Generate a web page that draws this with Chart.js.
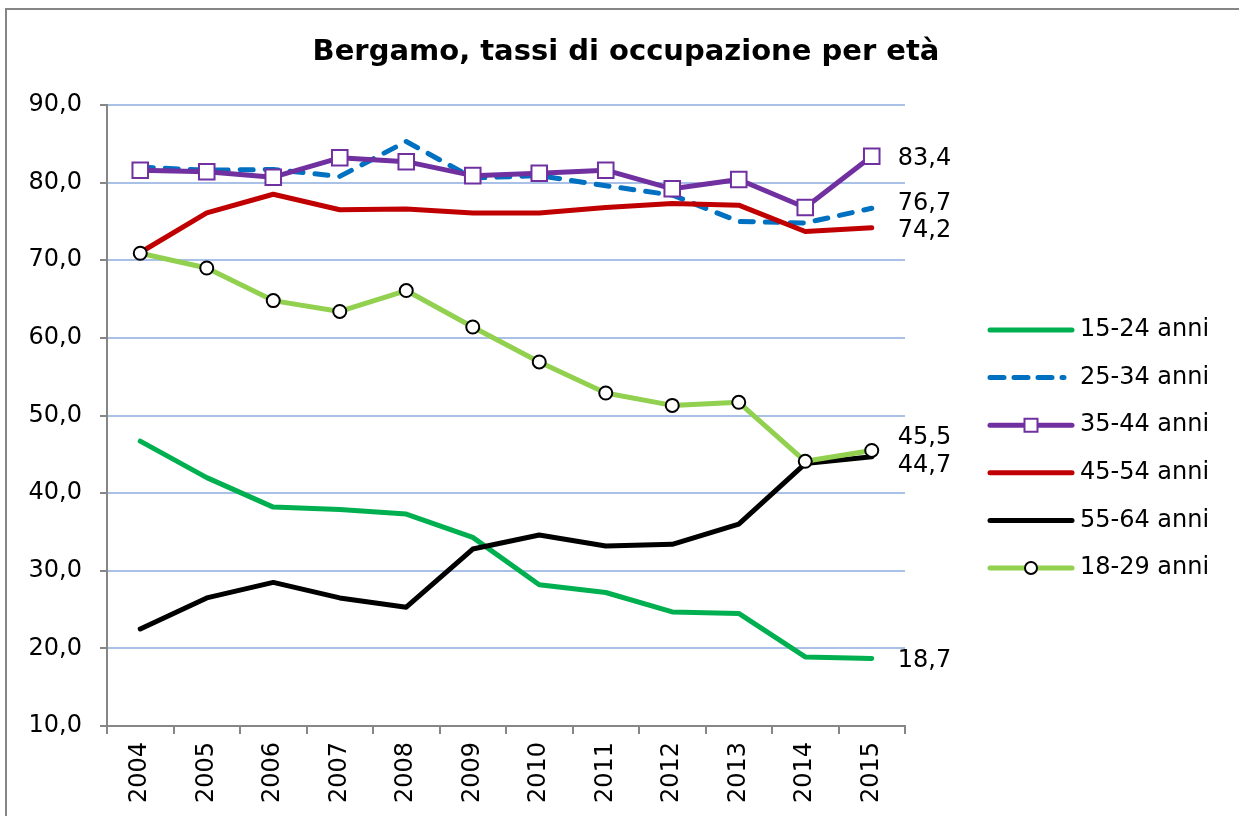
<!DOCTYPE html>
<html>
<head>
<meta charset="utf-8">
<title>Bergamo, tassi di occupazione per età</title>
<script src="https://cdn.jsdelivr.net/npm/chart.js@4/dist/chart.umd.min.js"></script>
<style>
  html, body { margin: 0; padding: 0; background: #fff; overflow: hidden; }
</style>
</head>
<body>
<canvas id="chartOcc" width="1239" height="816"></canvas>
<script>
// dati
let anni = ['2004', '2005', '2006', '2007', '2008', '2009', '2010', '2011', '2012', '2013', '2014', '2015'];
let nomiSerie = ['15-24 anni', '25-34 anni', '35-44 anni', '45-54 anni', '55-64 anni', '18-29 anni'];

let occ15_24 = [46.7, 42.0, 38.2, 37.9, 37.3, 34.3, 28.2, 27.2, 24.7, 24.5, 18.9, 18.7];
let occ25_34 = [82.0, 81.6, 81.7, 80.8, 85.3, 80.6, 80.9, 79.6, 78.4, 75.0, 74.8, 76.7];
let occ35_44 = [81.6, 81.4, 80.7, 83.2, 82.7, 80.9, 81.2, 81.6, 79.2, 80.4, 76.8, 83.4];
let occ45_54 = [71.0, 76.1, 78.5, 76.5, 76.6, 76.1, 76.1, 76.8, 77.3, 77.1, 73.7, 74.2];
let occ55_64 = [22.5, 26.5, 28.5, 26.5, 25.3, 32.8, 34.6, 33.2, 33.4, 36.0, 43.8, 44.7];
let occ18_29 = [70.9, 69.0, 64.8, 63.4, 66.1, 61.4, 56.9, 52.9, 51.3, 51.7, 44.1, 45.5];

let tickY = [10, 20, 30, 40, 50, 60, 70, 80, 90];

// stile
let colori = ['#00B050', '#0070C0', '#7030A0', '#C00000', '#000000', '#92D050'];
let spostaEtichetta = [2, -4, 3, 3, 9, -13]; // piccolo spostamento verticale delle etichette finali
const FONT = '"DejaVu Sans", Verdana, sans-serif';
const GRIGIO = '#868686';

function virgola(v) {
    return v.toFixed(1).replace('.', ',');
}

let serie = [occ15_24, occ25_34, occ35_44, occ45_54, occ55_64, occ18_29];

let datasets = serie.map((valori, i) => {
    let ds = {
        label: nomiSerie[i],
        data: valori,
        borderColor: colori[i],
        backgroundColor: colori[i],
        borderWidth: 5,
        borderJoinStyle: 'round',
        borderCapStyle: 'round',
        pointRadius: 0,
        pointHoverRadius: 0,
        tension: 0,
        order: serie.length - 1 - i // le ultime serie sopra, come in Excel
    };
    return ds;
});

// 25-34 tratteggiata
datasets[1].borderDash = [13, 12];
// 35-44 con quadrati bianchi
Object.assign(datasets[2], {
    pointStyle: 'rect', pointRadius: 11, pointBorderWidth: 2,
    pointBackgroundColor: '#fff', pointBorderColor: colori[2]
});
// 18-29 con cerchi bianchi
Object.assign(datasets[5], {
    pointStyle: 'circle', pointRadius: 6.5, pointBorderWidth: 2,
    pointBackgroundColor: '#fff', pointBorderColor: '#000'
});

const decorazioni = {
    id: 'decorazioni',
    beforeDraw(chart) {
        // sfondo e cornice grigia
        const ctx = chart.ctx;
        ctx.save();
        ctx.fillStyle = '#fff';
        ctx.fillRect(0, 0, chart.width, chart.height);
        ctx.strokeStyle = GRIGIO;
        ctx.lineWidth = 2;
        ctx.strokeRect(6, 9, chart.width + 20, chart.height + 20);
        ctx.restore();
    },
    afterDatasetsDraw(chart) {
        // etichette del valore 2015
        const ctx = chart.ctx;
        ctx.save();
        ctx.font = '24px ' + FONT;
        ctx.fillStyle = '#000';
        ctx.textAlign = 'left';
        ctx.textBaseline = 'middle';
        chart.data.datasets.forEach((ds, i) => {
            const meta = chart.getDatasetMeta(i);
            const last = meta.data.length - 1;
            const pt = meta.data[last];
            ctx.fillText(virgola(ds.data[last]), pt.x + 26, pt.y + spostaEtichetta[i]);
        });
        ctx.restore();
    },
    afterDraw(chart) {
        // legenda a destra
        const ctx = chart.ctx;
        const x0 = 990, x1 = 1072, top = 330, passo = 47.6;
        ctx.save();
        chart.data.datasets.forEach((ds, i) => {
            const y = top + i * passo;
            ctx.beginPath();
            ctx.strokeStyle = ds.borderColor;
            ctx.lineWidth = ds.borderWidth;
            ctx.lineCap = 'round';
            ctx.setLineDash(ds.borderDash ? [14, 10] : []);
            ctx.moveTo(x0, y);
            ctx.lineTo(ds.borderDash ? x1 - 8 : x1, y);
            ctx.stroke();
            ctx.setLineDash([]);
            if (ds.pointRadius > 0) {
                const cx = (x0 + x1) / 2;
                ctx.fillStyle = ds.pointBackgroundColor;
                ctx.strokeStyle = ds.pointBorderColor;
                ctx.lineWidth = 2;
                ctx.beginPath();
                if (ds.pointStyle === 'rect') {
                    ctx.rect(cx - 6.5, y - 6.5, 13, 13);
                } else {
                    ctx.arc(cx, y, 6, 0, Math.PI * 2);
                }
                ctx.fill();
                ctx.stroke();
            }
            ctx.font = '24px ' + FONT;
            ctx.fillStyle = '#000';
            ctx.textAlign = 'left';
            ctx.textBaseline = 'middle';
            ctx.fillText(ds.label, 1080, y);
        });
        ctx.restore();
    }
};

let ctxOcc = document.getElementById('chartOcc');

let myChart = new Chart(ctxOcc, {
    type: 'line',
    data: {
        labels: anni,
        datasets: datasets
    },
    options: {
        responsive: false,
        animation: false,
        devicePixelRatio: 1,
        layout: { padding: { left: 13, right: 0, top: 0, bottom: 0 } },
        plugins: {
            legend: { display: false },
            tooltip: { enabled: false },
            title: {
                display: true,
                text: 'Bergamo, tassi di occupazione per età',
                color: '#000',
                font: { family: FONT, size: 29, weight: 'bold' },
                padding: { top: 35, bottom: 35.2 }
            }
        },
        scales: {
            x: {
                type: 'category',
                offset: true,
                grid: {
                    offset: true,
                    drawOnChartArea: false,
                    drawTicks: true,
                    tickLength: 8,
                    tickColor: GRIGIO,
                    lineWidth: 2
                },
                border: { color: GRIGIO, width: 2 },
                ticks: {
                    color: '#000',
                    font: { family: FONT, size: 24 },
                    minRotation: 90,
                    maxRotation: 90,
                    autoSkip: false,
                    padding: 8
                },
                afterFit(s) { s.height = 90; }
            },
            y: {
                min: 10,
                max: 90,
                afterBuildTicks(s) { s.ticks = tickY.map(v => ({ value: v })); },
                grid: {
                    color: '#a9c1e7',
                    lineWidth: 2,
                    tickColor: GRIGIO,
                    tickLength: 7
                },
                border: { color: GRIGIO, width: 2 },
                ticks: {
                    color: '#000',
                    font: { family: FONT, size: 24 },
                    padding: 18,
                    callback: (v) => virgola(v)
                },
                afterFit(s) { s.width = 94; }
            },
            // asse vuoto che tiene lo spazio per la legenda
            spazioLegenda: {
                type: 'linear',
                position: 'right',
                display: true,
                grid: { display: false },
                border: { display: false },
                ticks: { display: false },
                afterFit(s) { s.width = 334; }
            }
        }
    },
    plugins: [decorazioni]
});
</script>
</body>
</html>
